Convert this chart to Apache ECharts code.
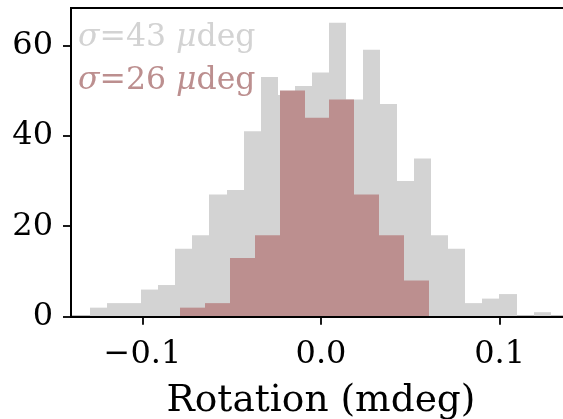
<!DOCTYPE html>
<html>
<head>
<meta charset="utf-8">
<script src="https://cdn.jsdelivr.net/npm/echarts@6/dist/echarts.min.js"></script>
<style>
  html, body { margin: 0; padding: 0; background: #fff; }
  #chart { width: 563px; height: 419px; }
</style>
</head>
<body>
<div id="chart"></div>
<script>
// Wide distribution (sigma = 43 µdeg), grey histogram
const grayBinStart = -0.12936;
const grayBinWidth = 0.009555;
const grayCounts = [2, 3, 3, 6, 7, 15, 18, 27, 28, 41, 53, 49, 51, 54, 65, 48, 59, 47, 30, 35, 18, 15, 3, 4, 5, 0, 1];

// Narrow distribution (sigma = 26 µdeg), rosy histogram
const redBinStart = -0.07896;
const redBinWidth = 0.013944;
const redCounts = [2, 3, 13, 18, 50, 44, 48, 27, 18, 8];

const xTicks = [-0.1, 0.0, 0.1];
const yTicks = [0, 20, 40, 60];
const xLimits = [-0.14, 0.14];
const yLimits = [0, 68.25];

const grayLabel = ['σ', '=43 ', 'μ', 'deg'];
const redLabel = ['σ', '=26 ', 'μ', 'deg'];
const xAxisTitle = 'Rotation (mdeg)';

const GRAY = '#d3d3d3';
const ROSY = '#bc8f8f';
const FONT = 'DejaVu Serif';

function toBins(start, width, counts) {
  return counts.map((c, i) => [start + i * width, start + (i + 1) * width, c]);
}

function makeRender(color) {
  return function (params, api) {
    const p0 = api.coord([api.value(0), 0]);
    const p1 = api.coord([api.value(1), api.value(2)]);
    const xl = Math.round(p0[0]), xr = Math.round(p1[0]);
    return {
      type: 'rect',
      shape: { x: xl, y: p1[1], width: xr - xl, height: p0[1] - p1[1] },
      style: { fill: color }
    };
  };
}

function richLabel(parts, color, size) {
  return {
    text: '{i|' + parts[0] + '}{n|' + parts[1] + '}{i|' + parts[2] + '}{n|' + parts[3] + '}',
    rich: {
      i: { fontFamily: FONT, fontStyle: 'italic', fontSize: size, fill: color },
      n: { fontFamily: FONT, fontSize: size, fill: color }
    }
  };
}

function fmtX(v) {
  const s = Math.abs(v).toFixed(1);
  return v < -1e-9 ? '\u2212' + s : s;
}

const chart = echarts.init(document.getElementById('chart'), null, { renderer: 'canvas' });
chart.setOption({
  animation: false,
  backgroundColor: '#fff',
  grid: {
    left: 71, top: 8, width: 500, height: 308.7,
    outerBoundsMode: 'none', containLabel: false,
    show: true, borderColor: '#000', borderWidth: 2, backgroundColor: 'transparent'
  },
  xAxis: {
    type: 'value', min: xLimits[0], max: xLimits[1], z: 10,
    axisLine: { show: true, onZero: false, lineStyle: { color: '#000', width: 2 } },
    axisTick: { show: true, length: 8, lineStyle: { color: '#000', width: 1.8 }, customValues: xTicks },
    axisLabel: { customValues: xTicks, formatter: fmtX, color: '#000', fontFamily: FONT, fontSize: 32, margin: 22 },
    splitLine: { show: false },
    name: xAxisTitle, nameLocation: 'middle', nameGap: 66,
    nameTextStyle: { color: '#000', fontFamily: FONT, fontSize: 37.5 }
  },
  yAxis: {
    type: 'value', min: yLimits[0], max: yLimits[1], z: 10,
    axisLine: { show: true, onZero: false, lineStyle: { color: '#000', width: 2 } },
    axisTick: { show: true, length: 8, lineStyle: { color: '#000', width: 1.8 }, customValues: yTicks },
    axisLabel: { customValues: yTicks, color: '#000', fontFamily: FONT, fontSize: 32, margin: 18 },
    splitLine: { show: false }
  },
  series: [
    { type: 'custom', renderItem: makeRender(GRAY), data: toBins(grayBinStart, grayBinWidth, grayCounts), encode: { x: [0, 1], y: 2 }, z: 2 },
    { type: 'custom', renderItem: makeRender(ROSY), data: toBins(redBinStart, redBinWidth, redCounts), encode: { x: [0, 1], y: 2 }, z: 3 }
  ],
  graphic: [
    { type: 'text', left: 78, top: 21.5, z: 20, style: Object.assign({ verticalAlign: 'top' }, richLabel(grayLabel, GRAY, 31.5)) },
    { type: 'text', left: 78, top: 65, z: 20, style: Object.assign({ verticalAlign: 'top' }, richLabel(redLabel, ROSY, 31.5)) }
  ]
});
</script>
</body>
</html>
